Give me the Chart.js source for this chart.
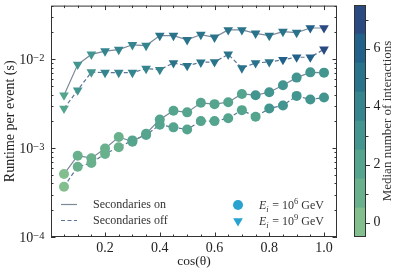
<!DOCTYPE html>
<html>
<head>
<meta charset="utf-8">
<script src="https://cdn.jsdelivr.net/npm/chart.js@4.4.1/dist/chart.umd.min.js"></script>
<style>
  body { margin: 0; background: #fff; }
  #wrap { position: relative; width: 399px; height: 274px; }
  #main { position: absolute; left: 0; top: 0; }
  #cbar { position: absolute; left: 340px; top: 0; }
</style>
</head>
<body>
<div id="wrap">
  <canvas id="main" width="399" height="274"></canvas>
  <canvas id="cbar" width="59" height="274"></canvas>
</div>
<script>
// cos(theta) bins
const cosTheta = [0.05, 0.10, 0.15, 0.20, 0.25, 0.30, 0.35, 0.40, 0.45, 0.50,
                  0.55, 0.60, 0.65, 0.70, 0.75, 0.80, 0.85, 0.90, 0.95, 1.00];

// runtime per event (s)
const onE6  = [5.1e-4, 8.2e-4, 7.7e-4, 9.9e-4, 1.33e-3, 1.18e-3, 1.45e-3, 2.1e-3, 2.63e-3, 2.52e-3,
               3.23e-3, 3.12e-3, 3.28e-3, 4.06e-3, 3.93e-3, 4.25e-3, 5.08e-3, 6.2e-3, 7.1e-3, 7.05e-3];
const offE6 = [3.68e-4, 6.17e-4, 6.78e-4, 8.6e-4, 1.02e-3, 1.22e-3, 1.4e-3, 1.83e-3, 1.71e-3, 1.62e-3,
               2.01e-3, 2.01e-3, 2.16e-3, 2.67e-3, 2.25e-3, 2.79e-3, 3.01e-3, 3.86e-3, 3.52e-3, 3.7e-3];
const onE9  = [3.93e-3, 8.7e-3, 1.13e-2, 1.23e-2, 1.28e-2, 1.45e-2, 1.42e-2, 1.84e-2, 1.84e-2, 1.65e-2,
               1.89e-2, 1.76e-2, 2.13e-2, 2.13e-2, 1.95e-2, 1.84e-2, 2.04e-2, 1.99e-2, 2.24e-2, 2.24e-2];
const offE9 = [2.79e-3, 4.47e-3, 7.16e-3, 7.05e-3, 7.05e-3, 7.05e-3, 7.82e-3, 7.6e-3, 9.05e-3, 8.44e-3,
               9.2e-3, 9.3e-3, 1.13e-2, 7.94e-3, 9.05e-3, 9.3e-3, 9.85e-3, 1.05e-2, 1.05e-2, 1.29e-2];

// median number of interactions
const nOnE6  = [0, 1, 1, 1, 1, 2, 2, 2, 2, 2, 2, 2, 2, 2, 3, 3, 3, 3, 3, 3];
const nOffE6 = [0, 1, 1, 1, 1, 2, 2, 2, 2, 2, 2, 2, 2, 2, 2, 3, 3, 3, 3, 3];
const nOnE9  = [2, 3, 3, 4, 4, 4, 4, 5, 5, 5, 5, 5, 5, 5, 5, 5, 5, 5, 6, 7];
const nOffE9 = [2, 3, 3, 4, 4, 4, 4, 4, 5, 5, 5, 5, 5, 5, 5, 5, 6, 6, 6, 7];

const xTicks = [0.2, 0.4, 0.6, 0.8, 1.0];
const yTicks = [1e-4, 1e-3, 1e-2];
const cbarTicks = [0, 2, 4, 6];

// crest-like discrete palette, one colour per interaction count 0..7
const bandColors = ['#83bf8e', '#69b18d', '#55a48e', '#43958f', '#35858e', '#2a748b', '#226189', '#2a4a82'];

const SERIF = "'Liberation Serif', 'DejaVu Serif', serif";
const lineOn = '#7b8999';
const lineOff = '#5d7594';
const legendBlue = '#28a3cf';

Chart.defaults.font.family = SERIF;
Chart.defaults.color = '#222';

const pts = arr => cosTheta.map((c, i) => ({ x: c, y: arr[i] }));
const cols = arr => arr.map(n => bandColors[n]);

function lineSet(arr, color, dashed) {
  return {
    data: pts(arr), showLine: true, borderColor: color, borderWidth: 1.2,
    borderDash: dashed ? [4, 2.5] : [], pointRadius: 0, order: 2
  };
}
function markerSet(arr, n, style) {
  return {
    data: pts(arr), showLine: false, pointStyle: style,
    pointRotation: style === 'triangle' ? 180 : 0,
    pointRadius: style === 'triangle' ? 5.6 : 5,
    pointBackgroundColor: cols(n), pointBorderWidth: 0, order: 1
  };
}

function drawSup(ctx, base, sup, xRight, y) {
  ctx.font = '10.5px ' + SERIF;
  const w2 = ctx.measureText(sup).width;
  ctx.font = '14px ' + SERIF;
  const w1 = ctx.measureText(base).width;
  ctx.textAlign = 'left';
  ctx.textBaseline = 'alphabetic';
  ctx.fillText(base, xRight - w2 - w1, y + 5.3);
  ctx.font = '10.5px ' + SERIF;
  ctx.fillText(sup, xRight - w2, y + 1.5);
}

function drawEnergy(ctx, x, y, exp) {
  let cx = x;
  ctx.textAlign = 'left';
  ctx.textBaseline = 'alphabetic';
  const part = (txt, font, dy, gap) => {
    ctx.font = font;
    ctx.fillText(txt, cx, y + dy);
    cx += ctx.measureText(txt).width + (gap || 0);
  };
  part('E', 'italic 12px ' + SERIF, 0, 0);
  part('i', 'italic 8.5px ' + SERIF, 2.5, 0.5);
  part(' = 10', '12px ' + SERIF, 0, 0);
  part(exp, '8.5px ' + SERIF, -5, 0);
  part(' GeV', '12px ' + SERIF, 0, 0);
}

const framePlugin = {
  id: 'frame',
  afterDraw(chart) {
    const { ctx, chartArea: a, scales: { x, y } } = chart;
    ctx.save();
    ctx.strokeStyle = '#333';
    ctx.lineWidth = 1;
    ctx.strokeRect(a.left + 0.5, a.top + 0.5, a.right - a.left - 1, a.bottom - a.top - 1);

    // x ticks (inward, bottom and top)
    for (let k = 1; k <= 20; k++) {
      const v = k * 0.05;
      const px = Math.round(x.getPixelForValue(v)) + 0.5;
      const len = (k % 4 === 0) ? 4.5 : 2.5;
      ctx.beginPath();
      ctx.moveTo(px, a.bottom); ctx.lineTo(px, a.bottom - len);
      ctx.moveTo(px, a.top); ctx.lineTo(px, a.top + len);
      ctx.stroke();
    }
    // y ticks (log, inward, left and right)
    for (let e = -4; e <= -2; e++) {
      for (let m = 1; m <= 9; m++) {
        const v = m * Math.pow(10, e);
        if (v > y.max) break;
        const py = Math.round(y.getPixelForValue(v)) + 0.5;
        const len = m === 1 ? 4.5 : 2.5;
        ctx.beginPath();
        ctx.moveTo(a.left, py); ctx.lineTo(a.left + len, py);
        ctx.moveTo(a.right, py); ctx.lineTo(a.right - len, py);
        ctx.stroke();
      }
    }
    // y tick labels 10^n
    ctx.fillStyle = '#222';
    yTicks.forEach(v => {
      const e = Math.round(Math.log10(v));
      drawSup(ctx, '10', '\u2212' + (-e), a.left - 6.5, y.getPixelForValue(v));
    });

    // legend: line styles
    ctx.lineWidth = 1.2;
    ctx.strokeStyle = lineOn;
    ctx.beginPath(); ctx.moveTo(61, 204.5); ctx.lineTo(77, 204.5); ctx.stroke();
    ctx.strokeStyle = lineOff;
    ctx.setLineDash([4, 2.5]);
    ctx.beginPath(); ctx.moveTo(61, 220.5); ctx.lineTo(77, 220.5); ctx.stroke();
    ctx.setLineDash([]);
    ctx.fillStyle = '#333';
    ctx.font = '12px ' + SERIF;
    ctx.textAlign = 'left';
    ctx.textBaseline = 'middle';
    ctx.fillText('Secondaries on', 93, 204.5);
    ctx.fillText('Secondaries off', 93, 220.5);

    // legend: energies
    ctx.fillStyle = legendBlue;
    Chart.helpers.drawPoint(ctx, { pointStyle: 'circle', radius: 5, rotation: 0, borderWidth: 0 }, 238, 205);
    Chart.helpers.drawPoint(ctx, { pointStyle: 'triangle', radius: 5.6, rotation: 180, borderWidth: 0 }, 238, 221);
    ctx.fillStyle = '#333';
    drawEnergy(ctx, 259, 209, '6');
    drawEnergy(ctx, 259, 225, '9');
    ctx.restore();
  }
};

new Chart(document.getElementById('main'), {
  type: 'scatter',
  data: {
    datasets: [
      lineSet(onE6, lineOn, false),
      lineSet(offE6, lineOff, true),
      lineSet(onE9, lineOn, false),
      lineSet(offE9, lineOff, true),
      markerSet(onE6, nOnE6, 'circle'),
      markerSet(offE6, nOffE6, 'circle'),
      markerSet(onE9, nOnE9, 'triangle'),
      markerSet(offE9, nOffE9, 'triangle')
    ]
  },
  options: {
    responsive: false,
    animation: false,
    devicePixelRatio: 1,
    layout: { padding: { left: 0, right: 62, top: 5, bottom: 0 } },
    plugins: { legend: { display: false }, tooltip: { enabled: false } },
    scales: {
      x: {
        type: 'linear', min: 0.0025, max: 1.0475,
        grid: { display: false }, border: { display: false },
        afterBuildTicks: s => { s.ticks = xTicks.map(v => ({ value: v })); },
        ticks: { font: { size: 14 }, color: '#222', padding: -5, maxRotation: 0,
                 callback: v => v.toFixed(1) },
        title: { display: true, text: 'cos(\u03b8)', font: { size: 13.5 }, color: '#222',
                 padding: { top: 0, bottom: 4 } },
        afterFit: s => { s.height = 37; }
      },
      y: {
        type: 'logarithmic', min: 1e-4, max: 0.04,
        grid: { display: false }, border: { display: false },
        afterBuildTicks: s => { s.ticks = yTicks.map(v => ({ value: v })); },
        ticks: { display: false },
        title: { display: true, text: 'Runtime per event (s)', font: { size: 14 }, color: '#222',
                 padding: { top: 2, bottom: 0 } },
        afterFit: s => { s.width = 51; }
      }
    }
  },
  plugins: [framePlugin]
});

// colour bar
const cbarPlugin = {
  id: 'cbarFrame',
  afterDraw(chart) {
    const { ctx, chartArea: a, scales: { y } } = chart;
    ctx.save();
    ctx.strokeStyle = '#333';
    ctx.lineWidth = 1;
    ctx.strokeRect(a.left + 0.5, a.top + 0.5, a.right - a.left - 1, a.bottom - a.top - 1);
    for (let v = 0; v <= 7; v++) {
      const py = Math.round(y.getPixelForValue(v)) + 0.5;
      const len = v % 2 === 0 ? 4 : 2.5;
      ctx.beginPath();
      ctx.moveTo(a.right, py); ctx.lineTo(a.right + len, py);
      ctx.stroke();
    }
    ctx.fillStyle = '#222';
    ctx.font = '14px ' + SERIF;
    ctx.textAlign = 'left';
    ctx.textBaseline = 'middle';
    cbarTicks.forEach(v => ctx.fillText(String(v), a.right + 7.5, y.getPixelForValue(v)));
    ctx.translate(47.5, (a.top + a.bottom) / 2);
    ctx.rotate(-Math.PI / 2);
    ctx.fillStyle = '#333';
    ctx.font = '13px ' + SERIF;
    ctx.textAlign = 'center';
    ctx.fillText('Median number of interactions', 0, 0);
    ctx.restore();
  }
};

new Chart(document.getElementById('cbar'), {
  type: 'bar',
  data: {
    labels: [''],
    datasets: bandColors.map((c, i) => ({
      data: [[i - 0.5, i + 0.5]], backgroundColor: c, borderWidth: 0,
      barPercentage: 1, categoryPercentage: 1
    }))
  },
  options: {
    responsive: false,
    animation: false,
    devicePixelRatio: 1,
    layout: { padding: { left: 14, right: 33, top: 5, bottom: 37 } },
    plugins: { legend: { display: false }, tooltip: { enabled: false } },
    scales: {
      x: { display: false, stacked: true },
      y: { display: false, min: -0.5, max: 7.5 }
    }
  },
  plugins: [cbarPlugin]
});
</script>
</body>
</html>
